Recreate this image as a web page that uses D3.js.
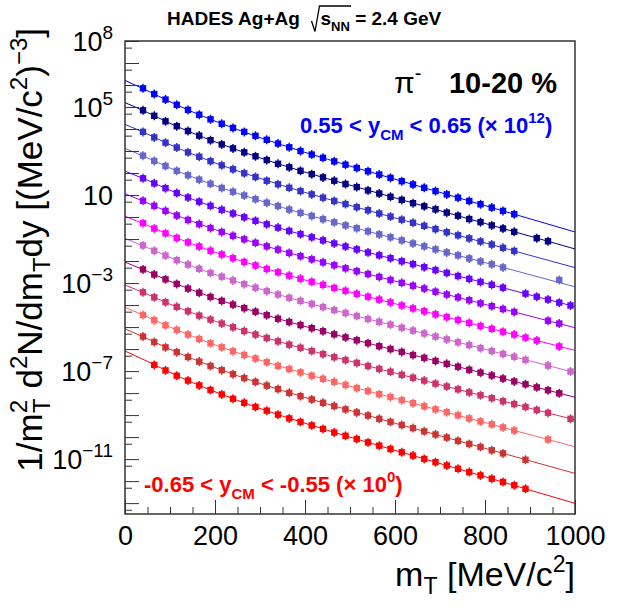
<!DOCTYPE html>
<html>
<head>
<meta charset="utf-8">
<script src="https://cdn.jsdelivr.net/npm/d3@7"></script>
<style>
  body { margin: 0; background: #fff; }
  text { font-family: "Liberation Sans", Arial, Helvetica, sans-serif; }
</style>
</head>
<body>
<div id="chart"></div>
<script>
// m_T bin centres [MeV/c^2]
const mT = [40, 65, 90, 115, 140, 165, 190, 215, 240, 265, 290, 315, 340, 365, 390, 415, 440, 465, 490,
            515, 540, 565, 590, 615, 640, 665, 690, 715, 740, 765, 790, 815, 840, 865, 890, 915, 940, 965, 990];

// rapidity bins, top curve first
const yLow  = [0.55, 0.45, 0.35, 0.25, 0.15, 0.05, -0.05, -0.15, -0.25, -0.35, -0.45, -0.55, -0.65];
const yHigh = [0.65, 0.55, 0.45, 0.35, 0.25, 0.15, 0.05, -0.05, -0.15, -0.25, -0.35, -0.45, -0.55];
const scalePow = [12, 11, 10, 9, 8, 7, 6, 5, 4, 3, 2, 1, 0];
const colors = ["#0000ff", "#000080", "#3333cc", "#6666cc", "#6600ff", "#9900ff", "#ff00ff",
                "#cc66cc", "#990066", "#cc3366", "#ff6666", "#cc3333", "#ff0000"];

// log10 of the plotted (already scaled) yield, null = no point
const logYield = [
  [5.85,5.59,5.34,5.10,4.87,4.65,4.44,4.24,4.05,3.87,3.69,3.51,3.34,3.17,3.00,2.84,2.69,2.53,2.38,2.23,
   2.08,1.93,1.78,1.63,1.48,1.33,1.18,1.03,0.88,0.73,0.58,0.43,0.28,0.13,null,null,null,null,null],
  [4.85,4.60,4.35,4.13,3.91,3.70,3.49,3.30,3.12,2.94,2.76,2.59,2.42,2.26,2.10,1.95,1.80,1.65,1.50,1.36,
   1.21,1.07,0.92,0.78,0.63,0.49,0.35,0.20,0.06,-0.09,-0.23,-0.38,-0.52,-0.67,null,-0.96,-1.10,null,null],
  [3.87,3.62,3.38,3.16,2.94,2.74,2.54,2.35,2.17,1.99,1.82,1.65,1.49,1.33,1.18,1.03,0.88,0.73,0.59,0.45,
   0.31,0.16,0.02,-0.12,-0.26,-0.40,-0.55,-0.69,-0.83,-0.97,-1.11,-1.25,-1.40,-1.54,null,null,null,null,null],
  [2.79,2.55,2.32,2.10,1.90,1.70,1.51,1.32,1.15,0.98,0.81,0.65,0.50,0.34,0.19,0.05,-0.10,-0.24,-0.38,-0.51,
   -0.65,-0.79,-0.92,-1.06,-1.20,-1.33,-1.47,-1.61,-1.74,-1.88,-2.02,-2.15,-2.29,null,null,null,null,-2.86,null],
  [1.76,1.53,1.31,1.09,0.89,0.70,0.51,0.33,0.16,-0.01,-0.17,-0.33,-0.48,-0.63,-0.78,-0.92,-1.06,-1.20,-1.34,-1.47,
   -1.61,-1.74,-1.87,-2.01,-2.14,-2.28,-2.41,-2.54,-2.68,-2.81,-2.95,-3.08,-3.21,null,-3.48,-3.62,-3.75,-3.89,-4.02],
  [0.74,0.51,0.28,0.07,-0.13,-0.32,-0.50,-0.68,-0.85,-1.01,-1.17,-1.33,-1.48,-1.63,-1.78,-1.92,-2.06,-2.19,-2.33,-2.46,
   -2.59,-2.72,-2.86,-2.99,-3.12,-3.25,-3.39,-3.52,-3.65,-3.78,-3.92,-4.05,-4.18,-4.31,null,null,-4.71,-4.84,null],
  [-0.28,-0.52,-0.74,-0.95,-1.15,-1.34,-1.53,-1.70,-1.87,-2.04,-2.20,-2.36,-2.51,-2.66,-2.80,-2.94,-3.08,-3.22,-3.35,-3.49,
   -3.62,-3.75,-3.88,-4.02,-4.15,-4.28,-4.42,-4.55,-4.68,-4.81,-4.95,-5.08,-5.21,-5.34,-5.48,-5.61,null,-5.88,null],
  [-1.29,-1.53,-1.75,-1.96,-2.16,-2.35,-2.54,-2.71,-2.88,-3.05,-3.21,-3.37,-3.52,-3.67,-3.81,-3.95,-4.09,-4.23,-4.36,-4.50,
   -4.63,-4.76,-4.89,-5.03,-5.16,-5.29,-5.43,-5.56,-5.69,-5.82,-5.96,-6.09,-6.22,-6.35,-6.49,null,-6.75,null,-7.02],
  [-2.38,-2.61,-2.83,-3.04,-3.25,-3.44,-3.63,-3.81,-3.98,-4.14,-4.30,-4.46,-4.62,-4.77,-4.91,-5.05,-5.19,-5.33,-5.47,-5.60,
   -5.73,-5.87,-6.00,-6.13,-6.27,-6.40,-6.54,-6.67,-6.80,-6.94,-7.07,-7.20,-7.34,-7.47,-7.60,-7.74,-7.87,-8.01,null],
  [-3.42,-3.65,-3.87,-4.08,-4.28,-4.48,-4.66,-4.84,-5.01,-5.18,-5.34,-5.50,-5.65,-5.80,-5.94,-6.09,-6.23,-6.37,-6.50,-6.63,
   -6.77,-6.90,-7.03,-7.17,-7.30,-7.43,-7.57,-7.70,-7.83,-7.97,-8.10,-8.23,-8.37,-8.50,-8.63,-8.77,-8.90,null,-9.17],
  [-4.45,-4.69,-4.92,-5.13,-5.34,-5.54,-5.74,-5.92,-6.10,-6.27,-6.43,-6.60,-6.76,-6.91,-7.06,-7.21,-7.35,-7.49,-7.63,-7.77,
   -7.91,-8.05,-8.18,-8.32,-8.46,-8.60,-8.74,-8.87,-9.01,-9.15,-9.29,-9.42,-9.56,-9.70,null,null,-10.11,null,null],
  [-5.43,-5.68,-5.92,-6.14,-6.36,-6.57,-6.77,-6.96,-7.14,-7.32,-7.49,-7.66,-7.82,-7.99,-8.14,-8.29,-8.44,-8.59,-8.74,-8.88,
   -9.02,-9.17,-9.31,-9.45,-9.59,-9.74,-9.88,-10.02,-10.17,-10.31,-10.45,-10.60,-10.74,null,-11.03,null,null,null,null],
  [null,-6.72,-6.97,-7.21,-7.43,-7.65,-7.86,-8.06,-8.26,-8.44,-8.63,-8.80,-8.98,-9.15,-9.31,-9.47,-9.63,-9.79,-9.94,-10.09,
   -10.24,-10.39,-10.54,-10.69,-10.84,-10.99,-11.14,-11.29,-11.44,-11.59,-11.74,-11.89,-12.04,-12.19,-12.35,null,null,null,null]
];

// fit curves, log10 of plotted value at these m_T
const fitMt = [0, 50, 100, 150, 200, 300, 400, 500, 600, 700, 800, 900, 1000];
const fitLog = [
  [6.21, 5.74, 5.24, 4.78, 4.36, 3.61, 2.94, 2.32, 1.72, 1.12, 0.52, -0.08, -0.68],
  [5.20, 4.75, 4.26, 3.82, 3.42, 2.69, 2.04, 1.45, 0.87, 0.29, -0.29, -0.87, -1.45],
  [4.21, 3.77, 3.29, 2.86, 2.46, 1.76, 1.12, 0.53, -0.04, -0.60, -1.17, -1.74, -2.30],
  [3.12, 2.69, 2.23, 1.82, 1.43, 0.75, 0.13, -0.43, -0.98, -1.53, -2.07, -2.62, -3.17],
  [2.09, 1.67, 1.22, 0.81, 0.44, -0.23, -0.84, -1.39, -1.93, -2.46, -3.00, -3.54, -4.07],
  [1.06, 0.64, 0.20, -0.20, -0.57, -1.24, -1.83, -2.38, -2.91, -3.44, -3.97, -4.50, -5.03],
  [0.04, -0.38, -0.82, -1.23, -1.60, -2.26, -2.86, -3.41, -3.94, -4.47, -5.00, -5.53, -6.06],
  [-0.97, -1.39, -1.83, -2.24, -2.61, -3.27, -3.87, -4.42, -4.95, -5.48, -6.01, -6.54, -7.07],
  [-2.05, -2.47, -2.92, -3.32, -3.70, -4.37, -4.97, -5.52, -6.05, -6.59, -7.12, -7.66, -8.19],
  [-3.09, -3.51, -3.96, -4.36, -4.73, -5.40, -6.00, -6.55, -7.09, -7.62, -8.15, -8.69, -9.22],
  [-4.11, -4.54, -5.00, -5.42, -5.81, -6.50, -7.12, -7.69, -8.24, -8.79, -9.34, -9.89, -10.44],
  [-5.08, -5.53, -6.01, -6.44, -6.84, -7.56, -8.20, -8.79, -9.37, -9.94, -10.51, -11.08, -11.65],
  [-6.09, -6.56, -7.06, -7.52, -7.94, -8.70, -9.37, -10.00, -10.60, -11.20, -11.80, -12.41, -13.01]
];

const xTicks = [0, 200, 400, 600, 800, 1000];
const yLabelPows = [8, 5, 1, -3, -7, -11];

const width = 633, height = 611;
const frame = { left: 125, right: 575, top: 41, bottom: 514 };

const svg = d3.select("#chart").append("svg")
    .attr("width", width).attr("height", height);

const x = d3.scaleLinear().domain([0, 1000]).range([frame.left, frame.right]);
const y = d3.scaleLog().domain([3.2e-14, 1e8]).range([frame.bottom, frame.top]);

// fits
const fitLine = d3.line()
    .x(d => x(d[0]))
    .y(d => y(Math.pow(10, d[1])))
    .curve(d3.curveMonotoneX);

svg.append("g").selectAll("path").data(fitLog).enter().append("path")
    .attr("d", d => fitLine(d.map((v, i) => [fitMt[i], v])))
    .attr("fill", "none")
    .attr("stroke", (d, i) => colors[i])
    .attr("stroke-width", 1);

// points
logYield.forEach((row, i) => {
    const pts = row.map((v, k) => ({ m: mT[k], v })).filter(p => p.v !== null);
    const g = svg.append("g").attr("fill", colors[i]).attr("stroke", colors[i]);
    g.selectAll("line").data(pts).enter().append("line")
        .attr("x1", p => x(p.m)).attr("x2", p => x(p.m))
        .attr("y1", p => y(Math.pow(10, p.v)) - 4.5)
        .attr("y2", p => y(Math.pow(10, p.v)) + 4.5)
        .attr("stroke-width", 1.4);
    g.selectAll("rect").data(pts).enter().append("rect")
        .attr("x", p => x(p.m) - 3.2)
        .attr("y", p => y(Math.pow(10, p.v)) - 3.2)
        .attr("width", 6.4).attr("height", 6.4)
        .attr("stroke", "none");
});

// axes
const axisColor = "#333";
function styleAxis(g) {
    g.select(".domain").remove();
    g.selectAll("line").attr("stroke", axisColor).attr("stroke-width", 1);
}

svg.append("g").attr("transform", `translate(0,${frame.bottom})`)
    .call(d3.axisBottom(x).tickValues(d3.range(0, 1001, 50)).tickSize(-7).tickFormat(""))
    .call(styleAxis);

svg.append("g").attr("transform", `translate(0,${frame.bottom})`)
    .call(d3.axisBottom(x).tickValues(xTicks).tickSize(-14).tickPadding(12).tickFormat(d3.format("d")))
    .call(styleAxis)
    .call(g => g.selectAll("text")
        .attr("font-size", 27).attr("fill", "#000")
        .attr("font-family", '"Liberation Sans", Arial, sans-serif'));

const decades = d3.range(-13, 9).map(p => Math.pow(10, p));
const halves = d3.range(-14, 8).map(p => 5 * Math.pow(10, p));

svg.append("g").attr("transform", `translate(${frame.left},0)`)
    .call(d3.axisLeft(y).tickValues(halves).tickSize(-7).tickFormat(""))
    .call(styleAxis);
svg.append("g").attr("transform", `translate(${frame.left},0)`)
    .call(d3.axisLeft(y).tickValues(decades).tickSize(-14).tickFormat(""))
    .call(styleAxis);

svg.append("rect")
    .attr("x", frame.left).attr("y", frame.top)
    .attr("width", frame.right - frame.left).attr("height", frame.bottom - frame.top)
    .attr("fill", "none").attr("stroke", axisColor).attr("stroke-width", 1.5);

// y tick labels
yLabelPows.forEach(p => {
    const t = svg.append("text")
        .attr("x", 113).attr("y", y(Math.pow(10, p)) + 10)
        .attr("text-anchor", "end").attr("font-size", 27);
    t.append("tspan").text("10");
    if (p !== 1) {
        t.append("tspan").attr("dy", -12).attr("font-size", 19)
            .text(p < 0 ? "\u2212" + (-p) : String(p));
    }
});

// axis titles
const xt = svg.append("text")
    .attr("x", frame.right).attr("y", 586)
    .attr("text-anchor", "end").attr("font-size", 34);
xt.append("tspan").text("m");
xt.append("tspan").attr("font-size", 23).attr("dy", 8).text("T");
xt.append("tspan").attr("dy", -8).text(" [MeV/c");
xt.append("tspan").attr("font-size", 23).attr("dy", -14).text("2");
xt.append("tspan").attr("dy", 14).text("]");

const yt = svg.append("text")
    .attr("transform", "translate(42,28) rotate(-90)")
    .attr("text-anchor", "end").attr("font-size", 35);
yt.append("tspan").text("1/m");
yt.append("tspan").attr("font-size", 24).attr("dy", -15).text("2");
yt.append("tspan").attr("font-size", 24).attr("dx", -13).attr("dy", 23).text("T");
yt.append("tspan").attr("dy", -8).text(" d");
yt.append("tspan").attr("font-size", 24).attr("dy", -15).text("2");
yt.append("tspan").attr("dy", 15).text("N/dm");
yt.append("tspan").attr("font-size", 24).attr("dy", 8).text("T");
yt.append("tspan").attr("dy", -8).text("dy [(MeV/c");
yt.append("tspan").attr("font-size", 24).attr("dy", -15).text("2");
yt.append("tspan").attr("dy", 15).text(")");
yt.append("tspan").attr("font-size", 24).attr("dy", -15).text("\u22123");
yt.append("tspan").attr("dy", 15).text("]");

// title
svg.append("text").attr("x", 167).attr("y", 25)
    .attr("font-size", 19).attr("font-weight", "bold").text("HADES Ag+Ag");
svg.append("path").attr("d", "M311.5,21 L315,31.5 L319.5,6 L351,6")
    .attr("fill", "none").attr("stroke", "#000").attr("stroke-width", 1.3);
const tt = svg.append("text").attr("x", 320.5).attr("y", 25)
    .attr("font-size", 19).attr("font-weight", "bold");
tt.append("tspan").text("s");
tt.append("tspan").attr("font-size", 13).attr("dy", 6).text("NN");
tt.append("tspan").attr("dy", -6).text(" = 2.4 GeV");

// particle + centrality
const pi = svg.append("text").attr("x", 394).attr("y", 93)
    .attr("font-size", 30).attr("font-family", '"Liberation Serif", "DejaVu Serif", serif');
pi.append("tspan").text("\u03c0");
pi.append("tspan").attr("font-size", 20).attr("dy", -13).text("-");
svg.append("text").attr("x", 557).attr("y", 93).attr("text-anchor", "end")
    .attr("font-size", 29).attr("font-weight", "bold").text("10-20 %");

// rapidity labels
function rapLabel(xp, yp, lo, hi, pow, color) {
    const fmt = v => (v < 0 ? "-" : "") + Math.abs(v).toFixed(2);
    const t = svg.append("text").attr("x", xp).attr("y", yp)
        .attr("font-size", 22).attr("font-weight", "bold").attr("fill", color);
    t.append("tspan").text(fmt(lo) + " < y");
    t.append("tspan").attr("font-size", 15).attr("dy", 7).text("CM");
    t.append("tspan").attr("dy", -7).text(" < " + fmt(hi) + " (\u00d7 10");
    t.append("tspan").attr("font-size", 15).attr("dy", -10).text(String(pow));
    t.append("tspan").attr("dy", 10).text(")");
}
rapLabel(300, 133, yLow[0], yHigh[0], scalePow[0], colors[0]);
rapLabel(144, 492, yLow[12], yHigh[12], scalePow[12], colors[12]);
</script>
</body>
</html>
